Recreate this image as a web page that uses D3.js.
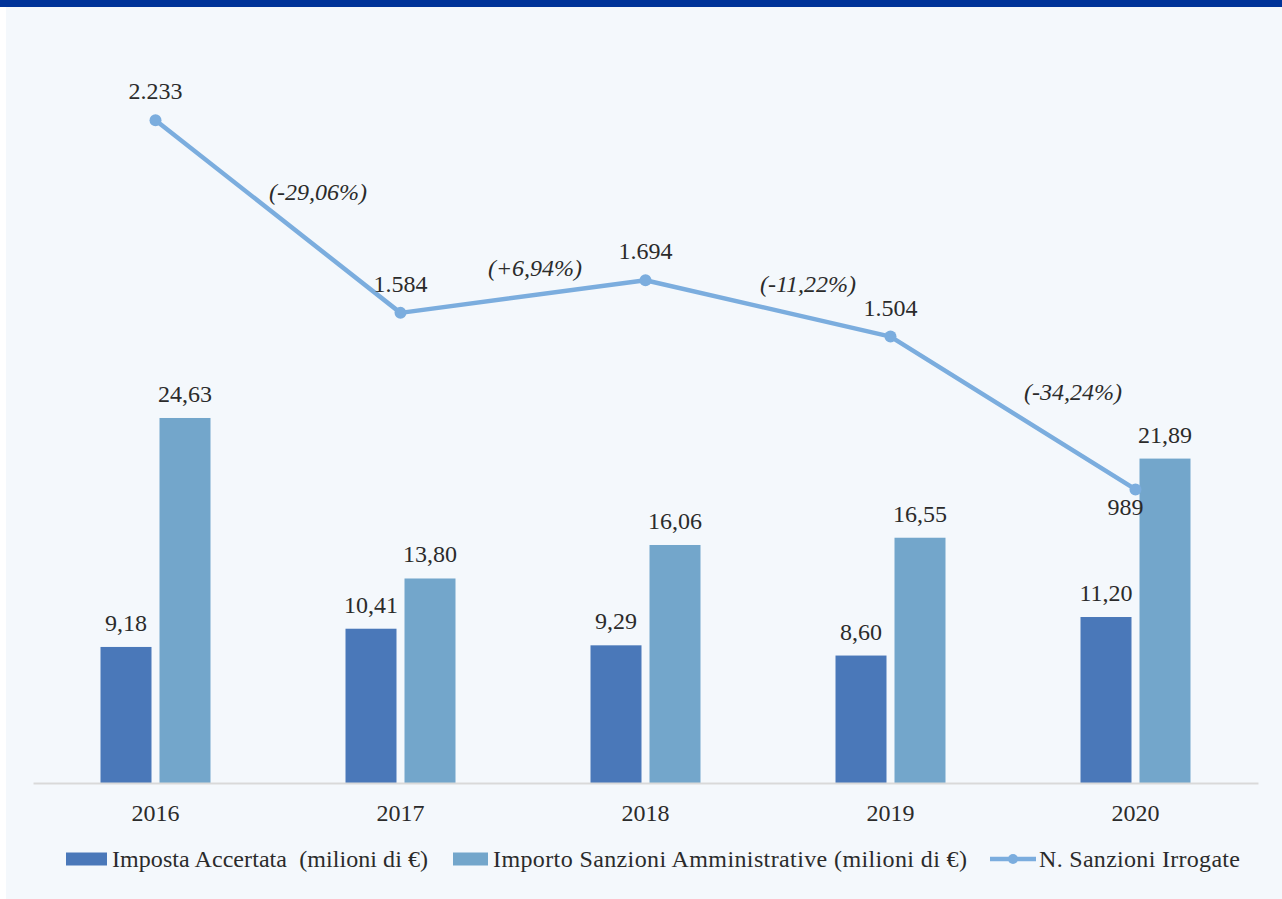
<!DOCTYPE html>
<html>
<head>
<meta charset="utf-8">
<script src="https://cdn.jsdelivr.net/npm/d3@7"></script>
<style>
  html, body { margin: 0; padding: 0; background: #ffffff; }
  svg { display: block; }
  text { font-family: "Liberation Serif", "DejaVu Serif", serif; fill: #2b2b2b; white-space: pre; }
</style>
</head>
<body>
<svg id="chart" width="1282" height="899"></svg>
<script>
// ---- data ----
const years = ["2016", "2017", "2018", "2019", "2020"];
const impostaAccertata = [9.18, 10.41, 9.29, 8.60, 11.20];
const importoSanzioni = [24.63, 13.80, 16.06, 16.55, 21.89];
const nSanzioni = [2233, 1584, 1694, 1504, 989];
const variazioni = ["(-29,06%)", "(+6,94%)", "(-11,22%)", "(-34,24%)"];
const seriesNames = [
  "Imposta Accertata  (milioni di €)",
  "Importo Sanzioni Amministrative (milioni di €)",
  "N. Sanzioni Irrogate"
];

// ---- layout ----
const W = 1282, H = 899;
const FS = 24;
const colDark = "#4a78b9", colLight = "#73a6cb", colLine = "#7badde";
const svg = d3.select("#chart");

svg.append("rect").attr("x", 0).attr("y", 0).attr("width", W).attr("height", H).attr("fill", "#ffffff");
svg.append("rect").attr("x", 6).attr("y", 0).attr("width", W - 6).attr("height", H).attr("fill", "#f4f8fc");
svg.append("rect").attr("x", 0).attr("y", 0).attr("width", W).attr("height", 7).attr("fill", "#003399");

const plotLeft = 33, plotRight = 1258, baseY = 783, topY = 41;

const x = d3.scaleBand().domain(years).range([plotLeft, plotRight]);
const yBar = d3.scaleLinear().domain([0, 50]).range([baseY, topY + 1]);
const yLine = d3.scaleLinear().domain([0, 2500]).range([baseY, topY]);

const fmt2 = v => v.toFixed(2).replace(".", ",");
const fmtThousands = v => d3.format(",")(v).replace(/,/g, ".");

const barW = 51, gap = 8;

// bars
const g = svg.append("g");
years.forEach((yr, i) => {
  const cx = x(yr) + x.bandwidth() / 2;
  const x1 = cx - gap / 2 - barW, x2 = cx + gap / 2;
  const v1 = impostaAccertata[i], v2 = importoSanzioni[i];
  g.append("rect").attr("x", x1).attr("y", yBar(v1)).attr("width", barW)
    .attr("height", baseY - yBar(v1)).attr("fill", colDark);
  g.append("rect").attr("x", x2).attr("y", yBar(v2)).attr("width", barW)
    .attr("height", baseY - yBar(v2)).attr("fill", colLight);
  g.append("text").attr("x", x1 + barW / 2).attr("y", yBar(v1) - 16)
    .attr("text-anchor", "middle").attr("font-size", FS).text(fmt2(v1));
  g.append("text").attr("x", x2 + barW / 2).attr("y", yBar(v2) - 16)
    .attr("text-anchor", "middle").attr("font-size", FS).text(fmt2(v2));
});

// baseline axis
const xAxis = d3.axisBottom(x).tickSize(0).tickPadding(21);
const ax = svg.append("g").attr("transform", `translate(0,${baseY})`).call(xAxis);
ax.select(".domain").attr("stroke", "#d9d9d9").attr("stroke-width", 2);
ax.selectAll("text").attr("font-size", FS).attr("fill", "#2b2b2b")
  .attr("font-family", "Liberation Serif, serif");

// line
const pts = years.map((yr, i) => [x(yr) + x.bandwidth() / 2, yLine(nSanzioni[i])]);
svg.append("path").attr("d", d3.line()(pts)).attr("fill", "none")
  .attr("stroke", colLine).attr("stroke-width", 4.5).attr("stroke-linejoin", "round");
svg.selectAll("circle.pt").data(pts).join("circle").attr("class", "pt")
  .attr("cx", d => d[0]).attr("cy", d => d[1]).attr("r", 6).attr("fill", colLine);

// line labels
const lblDy = [-21, -21, -21, -21, 26];
const lblDx = [0, 0, 0, 0, -10];
nSanzioni.forEach((v, i) => {
  svg.append("text").attr("x", pts[i][0] + lblDx[i]).attr("y", pts[i][1] + lblDy[i])
    .attr("text-anchor", "middle").attr("font-size", FS).text(fmtThousands(v));
});

// percent change labels
const pctOff = [[40, -17], [12, -21], [40, -16], [60, -13]];
variazioni.forEach((t, i) => {
  const mx = (pts[i][0] + pts[i + 1][0]) / 2, my = (pts[i][1] + pts[i + 1][1]) / 2;
  svg.append("text").attr("x", mx + pctOff[i][0]).attr("y", my + pctOff[i][1])
    .attr("text-anchor", "middle").attr("font-size", FS).attr("font-style", "italic")
    .text(t);
});

// legend
const leg = svg.append("g");
const legY = 859;
leg.append("rect").attr("x", 66).attr("y", legY - 6.5).attr("width", 41).attr("height", 13).attr("fill", colDark);
leg.append("text").attr("x", 112).attr("y", legY + 8).attr("font-size", FS)
  .attr("textLength", 316).attr("lengthAdjust", "spacing").text(seriesNames[0]);
leg.append("rect").attr("x", 453).attr("y", legY - 6.5).attr("width", 35).attr("height", 13).attr("fill", colLight);
leg.append("text").attr("x", 493).attr("y", legY + 8).attr("font-size", FS)
  .attr("textLength", 474).attr("lengthAdjust", "spacing").text(seriesNames[1]);
leg.append("line").attr("x1", 990).attr("x2", 1036).attr("y1", legY).attr("y2", legY)
  .attr("stroke", colLine).attr("stroke-width", 4.5);
leg.append("circle").attr("cx", 1013).attr("cy", legY).attr("r", 5).attr("fill", colLine);
leg.append("text").attr("x", 1039).attr("y", legY + 8).attr("font-size", FS)
  .attr("textLength", 201).attr("lengthAdjust", "spacing").text(seriesNames[2]);
</script>
</body>
</html>
